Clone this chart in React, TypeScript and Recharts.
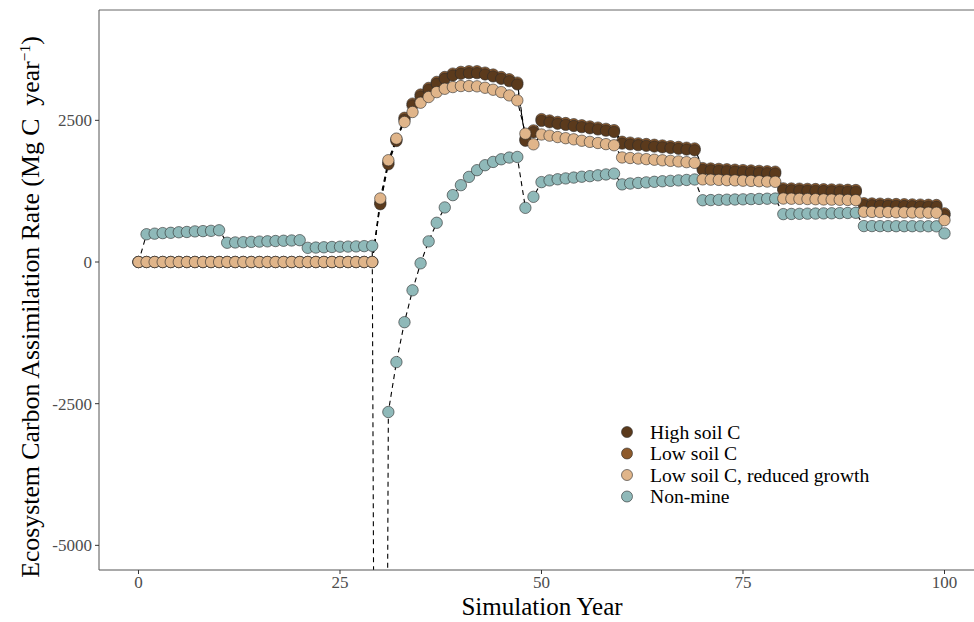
import React from 'react';
import { ComposedChart, Line, XAxis, YAxis, ReferenceLine } from 'recharts';

const YEARS = [
  0, 1, 2, 3, 4, 5, 6, 7, 8, 9, 10, 11, 12, 13, 14, 15, 16, 17, 18, 19, 20,
  21, 22, 23, 24, 25, 26, 27, 28, 29, 30, 31, 32, 33, 34, 35, 36, 37, 38, 39, 40,
  41, 42, 43, 44, 45, 46, 47, 48, 49, 50, 51, 52, 53, 54, 55, 56, 57, 58, 59, 60,
  61, 62, 63, 64, 65, 66, 67, 68, 69, 70, 71, 72, 73, 74, 75, 76, 77, 78, 79, 80,
  81, 82, 83, 84, 85, 86, 87, 88, 89, 90, 91, 92, 93, 94, 95, 96, 97, 98, 99, 100,
];

const ZEROS_0_29 = [0, 0, 0, 0, 0, 0, 0, 0, 0, 0, 0, 0, 0, 0, 0, 0, 0, 0, 0, 0, 0, 0, 0, 0, 0, 0, 0, 0, 0, 0];

const HIGH_SOIL_C = [
  ...ZEROS_0_29,
  1020, 1725, 2136, 2512, 2764, 2922, 3040, 3145, 3233, 3292,
  3322, 3333, 3333, 3310, 3275, 3233, 3192, 3134, 2140, 2290,
  2490, 2465, 2440, 2420, 2400, 2380, 2360, 2340, 2318, 2295,
  2090, 2075, 2062, 2050, 2037, 2024, 2011, 1998, 1985, 1972,
  1625, 1618, 1611, 1604, 1597, 1590, 1583, 1576, 1569, 1562,
  1268, 1265, 1262, 1258, 1255, 1252, 1248, 1245, 1242, 1238,
  1004, 1001, 998, 994, 991, 988, 984, 981, 978, 974,
  827,
];

const LOW_SOIL_C = [
  ...ZEROS_0_29,
  1050, 1755, 2165, 2545, 2795, 2955, 3072, 3178, 3265, 3325,
  3355, 3366, 3366, 3342, 3308, 3265, 3225, 3166, 2172, 2322,
  2522, 2497, 2472, 2452, 2432, 2412, 2392, 2372, 2350, 2327,
  2122, 2107, 2094, 2082, 2069, 2056, 2043, 2030, 2017, 2004,
  1657, 1650, 1643, 1636, 1629, 1622, 1615, 1608, 1601, 1594,
  1300, 1297, 1294, 1290, 1287, 1284, 1280, 1277, 1274, 1270,
  1036, 1033, 1030, 1026, 1023, 1020, 1016, 1013, 1010, 1006,
  859,
];

const LOW_SOIL_C_REDUCED = [
  ...ZEROS_0_29,
  1121, 1796, 2178, 2470, 2647, 2811, 2911, 2998, 3057, 3087,
  3105, 3105, 3100, 3075, 3040, 2998, 2940, 2852, 2265, 2077,
  2250, 2230, 2205, 2185, 2165, 2140, 2120, 2100, 2080, 2060,
  1845, 1835, 1825, 1815, 1805, 1795, 1785, 1775, 1762, 1750,
  1458, 1453, 1449, 1444, 1440, 1435, 1431, 1426, 1420, 1415,
  1120, 1117, 1114, 1111, 1108, 1104, 1101, 1098, 1095, 1092,
  886, 884, 882, 880, 878, 876, 874, 872, 870, 868,
  739,
];

const NON_MINE = [
  0,
  490, 500, 510, 515, 525, 530, 540, 545, 550, 560,
  340, 345, 350, 355, 360, 365, 370, 375, 380, 385,
  250, 255, 260, 265, 270, 272, 275, 280, 285,
  -35000,
  -2647, -1766, -1062, -499, -23, 364, 692, 963, 1180, 1356,
  1502, 1620, 1708, 1766, 1813, 1843, 1854, 956, 1150,
  1410, 1440, 1460, 1475, 1490, 1505, 1515, 1530, 1545, 1560,
  1370, 1385, 1395, 1405, 1415, 1425, 1432, 1440, 1448, 1456,
  1090, 1093, 1096, 1100, 1103, 1106, 1110, 1113, 1117, 1120,
  845, 848, 850, 853, 855, 858, 860, 863, 865, 868,
  634, 634, 633, 633, 632, 632, 632, 631, 631, 630,
  505,
];

const X_TICKS = [0, 25, 50, 75, 100];
const Y_TICKS = [-5000, -2500, 0, 2500];
const X_DOMAIN: [number, number] = [-4.9, 103.66];
const Y_MIN = -5435;
const Y_MAX = 4447;

const SERIES = [
  { key: 'nonMine', name: 'Non-mine', color: '#8fb9b9' },
  { key: 'low', name: 'Low soil C', color: '#8d5a2c' },
  { key: 'high', name: 'High soil C', color: '#5b3a1c' },
  { key: 'reduced', name: 'Low soil C, reduced growth', color: '#e0b58a' },
];

const LEGEND_ORDER = ['high', 'low', 'reduced', 'nonMine'];

const data = YEARS.map((year, i) => ({
  year,
  high: HIGH_SOIL_C[i],
  low: LOW_SOIL_C[i],
  reduced: LOW_SOIL_C_REDUCED[i],
  nonMine: NON_MINE[i],
}));

const FONT = '"Liberation Serif", "DejaVu Serif", serif';

const LegendBox = () => (
  <svg width={320} height={100} style={{ position: 'absolute', left: 615, top: 420 }}>
    {LEGEND_ORDER.map((k, i) => {
      const s = SERIES.find((x) => x.key === k)!;
      const cy = 12 + i * 21.5;
      return (
        <g key={k}>
          <circle cx={12} cy={cy} r={5.5} fill={s.color} stroke="#2b2b2b" strokeWidth={0.6} />
          <text x={35} y={cy} dy="0.34em" fontFamily={FONT} fontSize={19.6} fill="#000">
            {s.name}
          </text>
        </g>
      );
    })}
  </svg>
);

const YLabel = () => {
  const cx = 39;
  const cy = 307;
  return (
    <text
      x={cx}
      y={cy}
      transform={`rotate(-90, ${cx}, ${cy})`}
      textAnchor="middle"
      fontFamily={FONT}
      fontSize={25.8}
      fill="#000"
    >
      Ecosystem Carbon Assimilation Rate (Mg C{'\u00a0\u00a0'}year
      <tspan dy={-9} fontSize={15.5}>−1</tspan>
      <tspan dy={9}>)</tspan>
    </text>
  );
};

const XLabel = () => (
  <text x={542} y={615} textAnchor="middle" fontFamily={FONT} fontSize={25} fill="#000">
    Simulation Year
  </text>
);

export default function App() {
  return (
    <div style={{ position: 'absolute', left: 0, top: 0, width: 974, height: 622, background: '#fff' }}>
      <ComposedChart
        width={974}
        height={622}
        data={data}
        margin={{ top: 10, right: 0, bottom: 0, left: 0 }}
      >
        <XAxis
          dataKey="year"
          type="number"
          domain={X_DOMAIN}
          allowDataOverflow
          ticks={X_TICKS}
          height={52}
          tickSize={4}
          tickMargin={2}
          stroke="#555"
          tick={{ fill: '#4d4d4d', fontFamily: FONT, fontSize: 17 }}
          tickLine={{ stroke: '#333' }}
          label={<XLabel />}
        />
        <YAxis
          type="number"
          domain={[Y_MIN, Y_MAX]}
          allowDataOverflow
          ticks={Y_TICKS}
          width={99}
          tickSize={4}
          tickMargin={3}
          stroke="#555"
          tick={{ fill: '#4d4d4d', fontFamily: FONT, fontSize: 17 }}
          tickLine={{ stroke: '#333' }}
          label={<YLabel />}
        />
        <ReferenceLine y={Y_MAX} stroke="#666" strokeWidth={1} />
        {SERIES.map((s) => (
          <Line
            key={`line-${s.key}`}
            dataKey={s.key}
            stroke="#000"
            strokeWidth={1.1}
            strokeDasharray="5 4"
            dot={false}
            activeDot={false}
            legendType="none"
            isAnimationActive={false}
          />
        ))}
        {SERIES.map((s) => (
          <Line
            key={`dots-${s.key}`}
            dataKey={s.key}
            name={s.name}
            stroke="none"
            strokeWidth={0}
            dot={{ r: 5.7, fill: s.color, stroke: '#2b2b2b', strokeWidth: 0.6 }}
            activeDot={false}
            isAnimationActive={false}
          />
        ))}
      </ComposedChart>
      <LegendBox />
    </div>
  );
}
